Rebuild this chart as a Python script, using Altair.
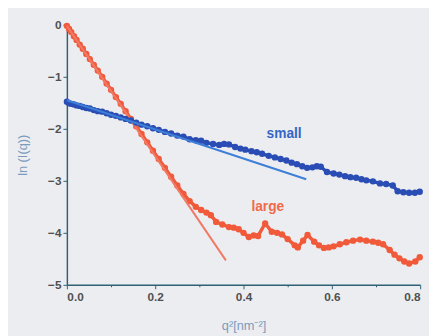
import altair as alt
import pandas as pd

# large (red) series: q^2 and ln I(q)
large_x = [0.000, 0.005, 0.010, 0.016, 0.022, 0.029, 0.036, 0.044, 0.052, 0.061,
           0.070, 0.080, 0.090, 0.100, 0.111, 0.122, 0.133, 0.145, 0.157, 0.169,
           0.182, 0.195, 0.208, 0.222, 0.236, 0.250, 0.264, 0.278, 0.292, 0.304,
           0.316, 0.326, 0.338, 0.352, 0.367, 0.378, 0.389, 0.400, 0.412, 0.423,
           0.433, 0.449, 0.464, 0.476, 0.487, 0.500, 0.516, 0.523, 0.535, 0.545,
           0.560, 0.571, 0.582, 0.593, 0.604, 0.618, 0.633, 0.648, 0.664, 0.678,
           0.693, 0.705, 0.716, 0.731, 0.742, 0.753, 0.764, 0.775, 0.789, 0.799]
large_y = [-0.02, -0.08, -0.14, -0.22, -0.29, -0.38, -0.46, -0.56, -0.66, -0.77,
           -0.88, -1.00, -1.13, -1.25, -1.39, -1.52, -1.66, -1.81, -1.95, -2.10,
           -2.26, -2.42, -2.58, -2.75, -2.92, -3.09, -3.25, -3.39, -3.50, -3.56,
           -3.61, -3.66, -3.79, -3.84, -3.89, -3.90, -3.93, -4.00, -4.08, -4.05,
           -4.06, -3.82, -3.98, -4.00, -4.03, -4.12, -4.24, -4.28, -4.15, -4.04,
           -4.17, -4.24, -4.29, -4.28, -4.26, -4.22, -4.18, -4.15, -4.13, -4.15,
           -4.17, -4.19, -4.22, -4.33, -4.42, -4.49, -4.55, -4.59, -4.55, -4.47]

# small (blue) series
small_x = [0.000, 0.005, 0.010, 0.016, 0.022, 0.029, 0.036, 0.044, 0.052, 0.061,
           0.070, 0.080, 0.090, 0.100, 0.111, 0.122, 0.133, 0.145, 0.157, 0.169,
           0.182, 0.195, 0.208, 0.222, 0.236, 0.250, 0.264, 0.278, 0.292, 0.304,
           0.316, 0.331, 0.345, 0.356, 0.367, 0.381, 0.393, 0.404, 0.418, 0.430,
           0.442, 0.457, 0.471, 0.484, 0.497, 0.509, 0.521, 0.533, 0.544, 0.556,
           0.566, 0.575, 0.589, 0.604, 0.617, 0.630, 0.642, 0.655, 0.667, 0.678,
           0.693, 0.709, 0.723, 0.738, 0.749, 0.762, 0.775, 0.788, 0.799]
small_y = [-1.48, -1.51, -1.52, -1.53, -1.55, -1.56, -1.58, -1.60, -1.61, -1.64,
           -1.66, -1.67, -1.70, -1.73, -1.75, -1.78, -1.81, -1.84, -1.88, -1.92,
           -1.95, -1.99, -2.02, -2.06, -2.09, -2.13, -2.15, -2.20, -2.22, -2.23,
           -2.27, -2.29, -2.31, -2.29, -2.30, -2.35, -2.38, -2.40, -2.43, -2.45,
           -2.48, -2.52, -2.55, -2.58, -2.61, -2.65, -2.68, -2.72, -2.75, -2.74,
           -2.72, -2.73, -2.83, -2.86, -2.88, -2.91, -2.93, -2.94, -2.97, -2.99,
           -3.01, -3.05, -3.06, -3.09, -3.20, -3.22, -3.23, -3.23, -3.21]

# Guinier fit lines (end points)
fit_small_x = [0.0, 0.542]
fit_small_y = [-1.45, -2.97]
fit_large_x = [0.0, 0.36]
fit_large_y = [-0.02, -4.53]

# labels
label_text = ["small", "large"]
label_x = [0.492, 0.455]
label_y = [-2.10, -3.50]
label_color = ["#3565c5", "#f06a4a"]

x_ticks = [0.0, 0.1, 0.2, 0.3, 0.4, 0.5, 0.6, 0.7, 0.8]
y_ticks = [-5, -4, -3, -2, -1, 0]

df_large = pd.DataFrame({"x": large_x, "y": large_y})
df_small = pd.DataFrame({"x": small_x, "y": small_y})
df_fs = pd.DataFrame({"x": fit_small_x, "y": fit_small_y})
df_fl = pd.DataFrame({"x": fit_large_x, "y": fit_large_y})
df_lab = pd.DataFrame({"x": label_x, "y": label_y, "t": label_text, "c": label_color})

axis_col = "#2e6275"
title_col = "#7b9bbd"

xs = alt.X("x:Q", scale=alt.Scale(domain=[0, 0.8], nice=False),
           axis=alt.Axis(values=x_ticks, title="q²[nm⁻²]",
                         labelExpr="round(datum.value*10)%2==0 ? format(datum.value,'.1f') : ''",
                         tickSize=alt.condition("round(datum.value*10)%2==0", alt.value(4), alt.value(2)),
                         grid=False, domainColor=axis_col, domainWidth=1.5,
                         tickColor=axis_col, labelColor="#505050", labelFontSize=12,
                         labelFontWeight="bold", labelFont="Arial",
                         titleColor=title_col, titleFontSize=13, titleFontWeight="normal",
                         titleFont="Arial", titlePadding=17, labelPadding=3))
ys = alt.Y("y:Q", scale=alt.Scale(domain=[-5, 0], nice=False),
           axis=alt.Axis(values=y_ticks, title="ln (I(q))", format="d",
                         grid=False, domainColor=axis_col, domainWidth=1.5,
                         tickColor=axis_col, tickSize=4, labelColor="#505050", labelFontSize=12,
                         labelFontWeight="bold", labelFont="Arial",
                         titleColor=title_col, titleFontSize=13, titleFontWeight="normal",
                         titleFont="Arial", titlePadding=18, labelPadding=2))

blue = "#2a4db5"
red = "#f05a3a"

small_line = alt.Chart(df_small).mark_line(color=blue, strokeWidth=3.5).encode(x=xs, y=ys)
small_pts = alt.Chart(df_small).mark_circle(color=blue, size=42, opacity=1).encode(x=xs, y=ys)
large_line = alt.Chart(df_large).mark_line(color=red, strokeWidth=3.5).encode(x=xs, y=ys)
large_pts = alt.Chart(df_large).mark_circle(color=red, size=42, opacity=1).encode(x=xs, y=ys)
fit_s = alt.Chart(df_fs).mark_line(color="#3d7fd6", strokeWidth=2).encode(x=xs, y=ys)
fit_l = alt.Chart(df_fl).mark_line(color="#f07a66", strokeWidth=2).encode(x=xs, y=ys)
labels = alt.Chart(df_lab).mark_text(fontSize=14, fontWeight="bold", font="Arial").encode(
    x=xs, y=ys, text="t:N", color=alt.Color("c:N", scale=None))

chart = alt.layer(large_line, large_pts, fit_l, small_line, small_pts, fit_s, labels).properties(
    width=360, height=265,
    autosize="none",
    padding={"left": 60, "top": 14, "right": 9, "bottom": 49},
    background="#ecedf0",
).configure_view(stroke=None)

chart.save("out.html", embed_options={"renderer": "svg", "actions": False})
